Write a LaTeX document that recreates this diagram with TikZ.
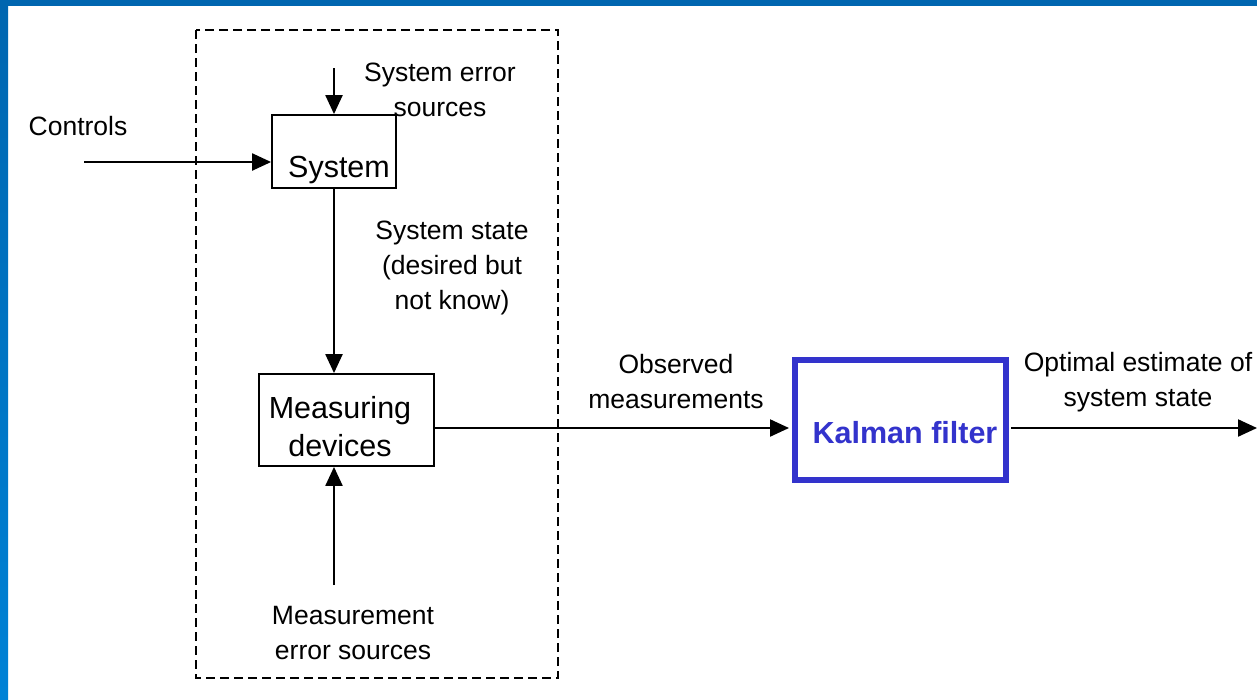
\documentclass[tikz,border=0pt]{standalone}
\usepackage{fontspec}
\setmainfont{Liberation Sans}
\usetikzlibrary{arrows.meta,calc}
\definecolor{frameblue}{HTML}{0066B0}
\definecolor{framelight}{HTML}{0082D6}
\definecolor{kblue}{HTML}{3333CC}
\begin{document}
\begin{tikzpicture}[x=1pt,y=-1pt,
  lbl/.style={font=\fontsize{26.5}{35}\selectfont, align=center, inner sep=0pt},
  boxtxt/.style={font=\fontsize{30.5}{38}\selectfont, align=center, inner sep=0pt},
  blk/.style={draw=black, line width=1.8pt, inner sep=0pt},
  conn/.style={line width=2.2pt, -{Triangle[length=19pt,width=17pt]}},
]
\useasboundingbox (0,0) rectangle (1257,699);
\fill[white] (0,0) rectangle (1257,699);
\fill[frameblue] (0,0) rectangle (1257,6);
\shade[top color=frameblue, bottom color=framelight] (0,0) rectangle (8,699);

% dashed group
\draw[line width=2.6pt, dash pattern=on 9pt off 5pt] (196,30) rectangle (558,678);

% boxes
\node[blk, minimum width=124pt, minimum height=73pt] (sys) at (334,151.5) {};
\node[boxtxt] (systxt) at (339,170) {System};
\node[blk, minimum width=175pt, minimum height=92pt] (meas) at (346.5,420) {};
\node[boxtxt] (meastxt) at (340,427) {Measuring\\devices};
\node[draw=kblue, line width=6pt, minimum width=211pt, minimum height=120pt, inner sep=0pt] (kf) at (900.5,420) {};
\node[font=\fontsize{30.5}{36}\selectfont\bfseries, text=kblue, inner sep=0pt] (kftxt) at (905,433) {Kalman filter};

% labels
\node[lbl] (ctrl) at (78,126) {Controls};
\node[lbl] (serr) at (440,90) {System error\\sources};
\node[lbl] (sstate) at (452,268) {System state\\(desired but\\not know)};
\node[lbl] (merr) at (353,633) {Measurement\\error sources};
\node[lbl] (obs) at (676,382) {Observed\\measurements};
\node[lbl] (opt) at (1138,382) {Optimal estimate of\\system state};

% free ends
\coordinate (cstart) at (84,162);
\coordinate (sestart) at (334,68);
\coordinate (mestart) at (334,585);
\coordinate (outend) at (1257,428);

% connectors
\draw[conn] (cstart) -- (sys.west |- cstart);
\draw[conn] (sestart) -- (sestart |- sys.north);
\draw[conn] (sestart |- sys.south) -- (sestart |- meas.north);
\draw[conn] (mestart) -- (mestart |- meas.south);
\draw[conn] (meas.east |- outend) -- ($(kf.west |- outend)+(-3,0)$);
\draw[conn] ($(kf.east |- outend)+(2,0)$) -- (outend);
\end{tikzpicture}
\end{document}
